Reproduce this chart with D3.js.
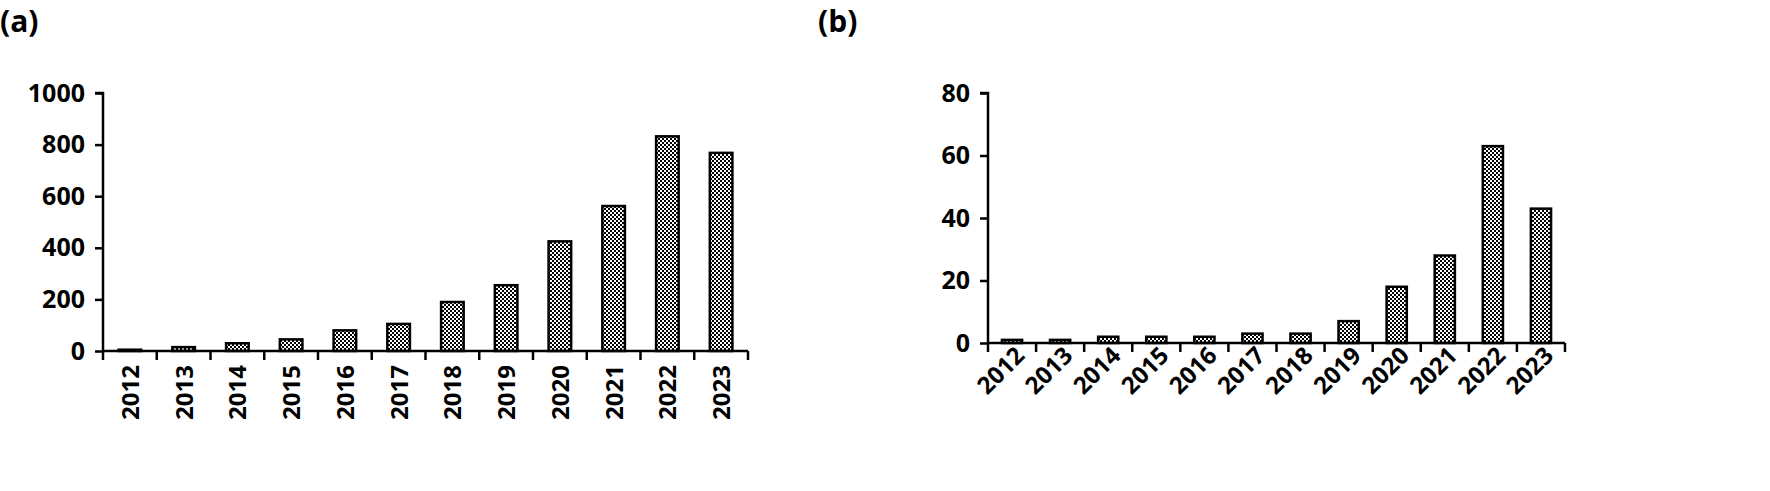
<!DOCTYPE html>
<html>
<head>
<meta charset="UTF-8">
<script src="https://cdn.jsdelivr.net/npm/d3@7"></script>
<style>body{margin:0;background:#fff}text{font-family:"Open Sans",Lato,sans-serif;font-weight:bold;fill:#000}</style>
</head>
<body>
<svg id="chart" width="1770" height="491"></svg>
<script>
// data
const years = ["2012","2013","2014","2015","2016","2017","2018","2019","2020","2021","2022","2023"];
const valuesA = [5,15,30,45,80,105,190,255,425,562,832,768];
const valuesB = [1,1,2,2,2,3,3,7,18,28,63,43];
const ticksA = [0,200,400,600,800,1000];
const ticksB = [0,20,40,60,80];

let svg = d3.select("#chart");

// checkered fill like the original
let pat = svg.append("defs").append("pattern")
  .attr("id","dots").attr("width",4).attr("height",4).attr("patternUnits","userSpaceOnUse");
pat.append("rect").attr("width",4).attr("height",4).attr("fill","#fff");
pat.append("rect").attr("width",2).attr("height",2).attr("fill","#000");
pat.append("rect").attr("x",2).attr("y",2).attr("width",2).attr("height",2).attr("fill","#000");

function panel(opt){
  let g = svg.append("g");
  g.append("text").text(opt.title).attr("x",opt.titleX).attr("y",32).style("font-size","30px");

  let x = d3.scaleBand().domain(years).range([opt.x0,opt.x1]).paddingInner(0.58).paddingOuter(0.29);
  let y = d3.scaleLinear().domain([0,opt.max]).range([opt.y0,93]);

  // bars
  g.selectAll("rect.bar").data(opt.values).enter().append("rect")
    .attr("x",(d,i)=>x(years[i])).attr("width",x.bandwidth())
    .attr("y",d=>y(d)).attr("height",d=>opt.y0-y(d))
    .attr("fill","url(#dots)").attr("stroke","#000").attr("stroke-width",2.5);

  // y axis
  let ya = g.append("g").attr("transform",`translate(${opt.x0},0)`)
    .call(d3.axisLeft(y).tickValues(opt.ticks).tickFormat(d3.format("d")).tickSize(8).tickPadding(10));
  ya.selectAll("path,line").attr("stroke","#000").attr("stroke-width",2.5);
  ya.select("path").attr("d",`M-8,93H0V${opt.y0}`);
  ya.selectAll("text").style("font-size","25px").style("font-family","'Open Sans',sans-serif").style("font-weight","bold");

  // x axis with boundary ticks
  let step = x.step();
  g.append("line").attr("x1",opt.x0).attr("x2",opt.x1).attr("y1",opt.y0).attr("y2",opt.y0)
    .attr("stroke","#000").attr("stroke-width",2.5);
  g.selectAll("line.tk").data(d3.range(years.length+1)).enter().append("line")
    .attr("x1",i=>opt.x0+i*step).attr("x2",i=>opt.x0+i*step)
    .attr("y1",opt.y0).attr("y2",opt.y0+9).attr("stroke","#000").attr("stroke-width",2.5);

  g.selectAll("text.xl").data(years).enter().append("text")
    .text(d=>d)
    .attr("transform",d=>`translate(${x(d)+x.bandwidth()/2+opt.dx},${opt.y0+14}) rotate(${opt.rot})`)
    .attr("text-anchor","end").style("font-size","24px");
}

panel({title:"(a)",titleX:0,values:valuesA,max:1000,ticks:ticksA,x0:103,x1:748,y0:351,rot:-90,dx:9});
panel({title:"(b)",titleX:818,values:valuesB,max:80,ticks:ticksB,x0:988,x1:1565,y0:343,rot:-45,dx:14});
</script>
</body>
</html>
